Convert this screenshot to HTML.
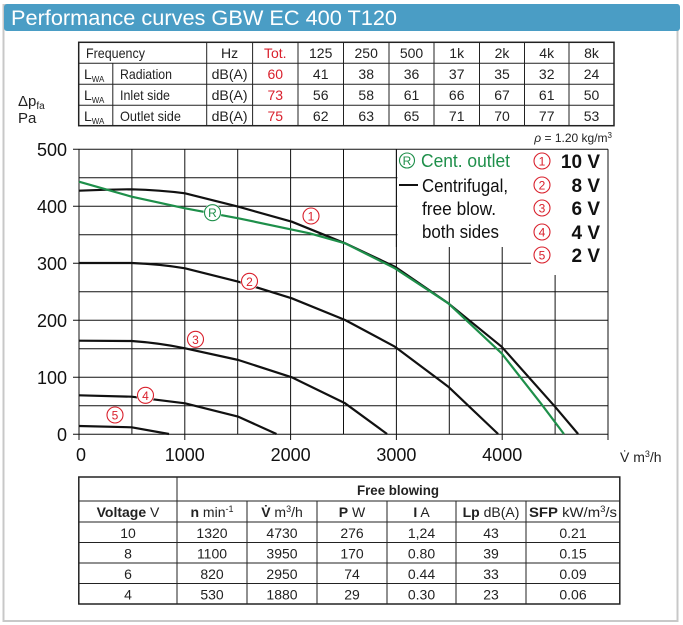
<!DOCTYPE html>
<html><head><meta charset="utf-8"><style>
html,body{margin:0;padding:0;background:#fff;}
svg{display:block;font-family:"Liberation Sans",sans-serif;}
</style></head><body>
<svg width="683" height="625" viewBox="0 0 683 625" xmlns="http://www.w3.org/2000/svg">
<rect x="0" y="0" width="683" height="625" fill="#fff"/>
<rect x="3.5" y="5" width="674" height="616" fill="#fff" stroke="#c8c8c8" stroke-width="2"/>
<rect x="4" y="4" width="676" height="27" fill="#4a9dc5" rx="3"/>
<text x="11" y="25" fill="#fff" font-size="21" textLength="386" lengthAdjust="spacingAndGlyphs">Performance curves GBW EC 400 T120</text>

<!-- top table -->
<g stroke="#222" stroke-width="1" fill="none">
<rect x="78.7" y="42.3" width="535.3" height="83.4" stroke-width="1.5"/>
<line x1="78.7" y1="63.3" x2="614" y2="63.3"/><line x1="78.7" y1="84.3" x2="614" y2="84.3"/><line x1="78.7" y1="105.3" x2="614" y2="105.3"/>
<line x1="112.8" y1="63.3" x2="112.8" y2="125.7"/>
<line x1="206.7" y1="42.3" x2="206.7" y2="125.7"/><line x1="252.6" y1="42.3" x2="252.6" y2="125.7"/><line x1="298" y1="42.3" x2="298" y2="125.7"/><line x1="343.5" y1="42.3" x2="343.5" y2="125.7"/><line x1="389" y1="42.3" x2="389" y2="125.7"/><line x1="434" y1="42.3" x2="434" y2="125.7"/><line x1="479.5" y1="42.3" x2="479.5" y2="125.7"/><line x1="524.5" y1="42.3" x2="524.5" y2="125.7"/><line x1="569" y1="42.3" x2="569" y2="125.7"/>
</g>
<g font-size="14" fill="#222" text-anchor="middle">
<text x="86" y="58" text-anchor="start" textLength="59" lengthAdjust="spacingAndGlyphs">Frequency</text>
<text x="229.6" y="58">Hz</text><text x="275.3" y="58" fill="#d9202c">Tot.</text>
<text x="320.7" y="58">125</text><text x="366.2" y="58">250</text><text x="411.5" y="58">500</text><text x="456.7" y="58">1k</text><text x="502" y="58">2k</text><text x="546.7" y="58">4k</text><text x="591.5" y="58">8k</text>
<text x="84" y="79" text-anchor="start">L<tspan font-size="8" dy="3">WA</tspan></text>
<text x="84" y="100" text-anchor="start">L<tspan font-size="8" dy="3">WA</tspan></text>
<text x="84" y="121" text-anchor="start">L<tspan font-size="8" dy="3">WA</tspan></text>
<text x="120" y="79" text-anchor="start" textLength="52" lengthAdjust="spacingAndGlyphs">Radiation</text>
<text x="120" y="100" text-anchor="start" textLength="50" lengthAdjust="spacingAndGlyphs">Inlet side</text>
<text x="120" y="121" text-anchor="start" textLength="61" lengthAdjust="spacingAndGlyphs">Outlet side</text>
<text x="229.6" y="79" textLength="36" lengthAdjust="spacingAndGlyphs">dB(A)</text><text x="229.6" y="100" textLength="36" lengthAdjust="spacingAndGlyphs">dB(A)</text><text x="229.6" y="121" textLength="36" lengthAdjust="spacingAndGlyphs">dB(A)</text>
<text x="275.3" y="79" fill="#d9202c">60</text><text x="320.7" y="79">41</text><text x="366.2" y="79">38</text><text x="411.5" y="79">36</text><text x="456.7" y="79">37</text><text x="502" y="79">35</text><text x="546.7" y="79">32</text><text x="591.5" y="79">24</text>
<text x="275.3" y="100" fill="#d9202c">73</text><text x="320.7" y="100">56</text><text x="366.2" y="100">58</text><text x="411.5" y="100">61</text><text x="456.7" y="100">66</text><text x="502" y="100">67</text><text x="546.7" y="100">61</text><text x="591.5" y="100">50</text>
<text x="275.3" y="121" fill="#d9202c">75</text><text x="320.7" y="121">62</text><text x="366.2" y="121">63</text><text x="411.5" y="121">65</text><text x="456.7" y="121">71</text><text x="502" y="121">70</text><text x="546.7" y="121">77</text><text x="591.5" y="121">53</text>
</g>
<text x="18" y="106" font-size="15" fill="#222">Δp<tspan font-size="10" dy="3">fa</tspan></text>
<text x="18" y="123" font-size="15" fill="#222">Pa</text>
<text x="612" y="142" font-size="12" fill="#222" text-anchor="end"><tspan font-style="italic">ρ</tspan> = 1.20 kg/m<tspan font-size="8" dy="-4">3</tspan></text>

<!-- grid -->
<g stroke="#111" stroke-width="1">
<line x1="73" y1="149.3" x2="608" y2="149.3"/>
<line x1="79" y1="177.8" x2="398" y2="177.8"/>
<line x1="73" y1="206.3" x2="398" y2="206.3"/>
<line x1="79" y1="234.8" x2="398" y2="234.8"/>
<line x1="73" y1="263.3" x2="531" y2="263.3"/>
<line x1="79" y1="291.8" x2="608" y2="291.8"/>
<line x1="73" y1="320.3" x2="608" y2="320.3"/>
<line x1="79" y1="348.8" x2="608" y2="348.8"/>
<line x1="73" y1="377.3" x2="608" y2="377.3"/>
<line x1="79" y1="405.8" x2="608" y2="405.8"/>
<line x1="73" y1="434.3" x2="608" y2="434.3"/>
<line x1="79" y1="149.3" x2="79" y2="440"/>
<line x1="131.9" y1="149.3" x2="131.9" y2="434.3"/>
<line x1="184.8" y1="149.3" x2="184.8" y2="440"/>
<line x1="237.7" y1="149.3" x2="237.7" y2="434.3"/>
<line x1="290.6" y1="149.3" x2="290.6" y2="440"/>
<line x1="343.5" y1="149.3" x2="343.5" y2="434.3"/>
<line x1="396.4" y1="149.3" x2="396.4" y2="440"/>
<line x1="449.3" y1="247" x2="449.3" y2="434.3"/>
<line x1="502.2" y1="247" x2="502.2" y2="440"/>
<line x1="555.1" y1="275" x2="555.1" y2="434.3"/>
<line x1="608" y1="149.3" x2="608" y2="440"/>
</g>
<g font-size="18" fill="#111" text-anchor="end">
<text x="67" y="156">500</text><text x="67" y="213">400</text><text x="67" y="270">300</text><text x="67" y="327">200</text><text x="67" y="384">100</text><text x="67" y="441">0</text>
</g>
<g font-size="18" fill="#111" text-anchor="middle">
<text x="81" y="461">0</text><text x="184.8" y="461">1000</text><text x="290.6" y="461">2000</text><text x="396.4" y="461">3000</text><text x="502.2" y="461">4000</text>
</g>
<text x="620" y="462" font-size="14" fill="#222">V̇  m<tspan font-size="9" dy="-5">3</tspan><tspan dy="5">/h</tspan></text>

<!-- curves -->
<g transform="translate(79,0) scale(0.9925,1) translate(-78.6,0)" fill="none" stroke-width="2.2" stroke-linejoin="round">
<path stroke="#111" d="M78.6,190.7 C105,189.5 131.7,189.3 131.7,189.3 C160,190 185.4,193.3 185.4,193.3 L239.2,206.7 L293,221.7 L346.7,243.3 L396.9,266.7 L450.7,303.3 L504.4,346.7 L558.2,406.7 L581.5,434"/>
<path stroke="#1e8f4a" d="M78.6,181.7 L131.7,196.7 L185.4,208.3 L239.2,218.3 L310.9,233.3 L346.7,243.3 L396.9,268.3 L450.7,303.3 L504.4,353.3 L543.9,403.3 L567.2,434"/>
<path stroke="#111" d="M78.6,263 L131.7,263 Q160,264 185.4,268.3 L239.2,281.7 L293,298.3 L346.7,320 L396.9,346.7 L450.7,386.7 L500.9,434"/>
<path stroke="#111" d="M78.6,340.7 L131.7,341 Q160,343 185.4,348.3 L239.2,360 L293,377.3 L346.7,403.3 L389,434"/>
<path stroke="#111" d="M78.6,395.3 L131.7,396.7 L185.4,403.3 L239.2,416.7 L277.6,434"/>
<path stroke="#111" d="M78.6,426 L131.7,427.3 L169.3,434"/>
</g>
<!-- curve labels -->
<g font-size="12" text-anchor="middle">
<circle cx="311" cy="216" r="8" fill="#fff" stroke="#d9202c" stroke-width="1.1"/><text x="311" y="220.5" fill="#d9202c">1</text>
<circle cx="249.5" cy="281.3" r="9" fill="#fff" stroke="none"/><circle cx="249.5" cy="281.3" r="8" fill="#fff" stroke="#d9202c" stroke-width="1.1"/><text x="249.5" y="285.8" fill="#d9202c">2</text>
<circle cx="195.5" cy="339.3" r="8" fill="#fff" stroke="#d9202c" stroke-width="1.1"/><text x="195.5" y="343.8" fill="#d9202c">3</text>
<circle cx="145.5" cy="395.3" r="9" fill="#fff" stroke="none"/><circle cx="145.5" cy="395.3" r="8" fill="#fff" stroke="#d9202c" stroke-width="1.1"/><text x="145.5" y="399.8" fill="#d9202c">4</text>
<circle cx="115" cy="415" r="8" fill="#fff" stroke="#d9202c" stroke-width="1.1"/><text x="115" y="419.5" fill="#d9202c">5</text>
<circle cx="212.5" cy="212.7" r="9" fill="#fff" stroke="none"/><circle cx="212.5" cy="212.7" r="8" fill="#fff" stroke="#1e8f4a" stroke-width="1.1"/><text x="212.5" y="217.2" fill="#1e8f4a">R</text>
</g>

<!-- legend -->
<rect x="397.4" y="150" width="210" height="97" fill="#fff"/>
<rect x="531.5" y="150" width="76" height="124.5" fill="#fff"/>
<line x1="396.4" y1="149.3" x2="396.4" y2="247" stroke="#111"/>
<g font-size="12" text-anchor="middle">
<circle cx="407" cy="160.5" r="7.5" fill="#fff" stroke="#1e8f4a" stroke-width="1.1"/><text x="407" y="165" fill="#1e8f4a">R</text>
</g>
<text x="421" y="167" font-size="18" fill="#1e8f4a" textLength="89" lengthAdjust="spacingAndGlyphs">Cent. outlet</text>
<line x1="399" y1="185" x2="418" y2="185" stroke="#111" stroke-width="2"/>
<g font-size="18" fill="#111">
<text x="422" y="192" textLength="86" lengthAdjust="spacingAndGlyphs">Centrifugal,</text>
<text x="422" y="215" textLength="74" lengthAdjust="spacingAndGlyphs">free blow.</text>
<text x="422" y="238" textLength="77" lengthAdjust="spacingAndGlyphs">both sides</text>
</g>
<g font-size="12" text-anchor="middle" fill="#d9202c">
<circle cx="542" cy="161" r="8" fill="#fff" stroke="#d9202c" stroke-width="1.1"/><text x="542" y="165.5">1</text>
<circle cx="542" cy="185" r="8" fill="#fff" stroke="#d9202c" stroke-width="1.1"/><text x="542" y="189.5">2</text>
<circle cx="542" cy="208" r="8" fill="#fff" stroke="#d9202c" stroke-width="1.1"/><text x="542" y="212.5">3</text>
<circle cx="542" cy="232" r="8" fill="#fff" stroke="#d9202c" stroke-width="1.1"/><text x="542" y="236.5">4</text>
<circle cx="542" cy="255" r="8" fill="#fff" stroke="#d9202c" stroke-width="1.1"/><text x="542" y="259.5">5</text>
</g>
<g font-size="19" font-weight="bold" fill="#111" text-anchor="end">
<text x="600" y="168">10 V</text><text x="600" y="192">8 V</text><text x="600" y="215">6 V</text><text x="600" y="239">4 V</text><text x="600" y="262">2 V</text>
</g>

<!-- bottom table -->
<g stroke="#222" stroke-width="1" fill="none">
<rect x="78.8" y="477" width="541" height="127" stroke-width="1.5"/>
<line x1="78.8" y1="501" x2="620" y2="501"/>
<line x1="78.8" y1="522" x2="620" y2="522"/>
<line x1="78.8" y1="542.5" x2="620" y2="542.5"/>
<line x1="78.8" y1="563" x2="620" y2="563"/>
<line x1="78.8" y1="583.5" x2="620" y2="583.5"/>
<line x1="177" y1="477" x2="177" y2="604"/>
<line x1="247" y1="501" x2="247" y2="604"/>
<line x1="317" y1="501" x2="317" y2="604"/>
<line x1="387" y1="501" x2="387" y2="604"/>
<line x1="456" y1="501" x2="456" y2="604"/>
<line x1="526" y1="501" x2="526" y2="604"/>
</g>
<g font-size="14" fill="#222" text-anchor="middle">
<text x="398" y="495" font-weight="bold" textLength="82" lengthAdjust="spacingAndGlyphs">Free blowing</text>
<text x="128" y="517"><tspan font-weight="bold">Voltage</tspan> V</text>
<text x="212" y="517"><tspan font-weight="bold">n</tspan> min<tspan font-size="9" dy="-5">-1</tspan></text>
<text x="282" y="517"><tspan font-weight="bold">V̇</tspan> m<tspan font-size="9" dy="-5">3</tspan><tspan dy="5">/h</tspan></text>
<text x="352" y="517"><tspan font-weight="bold">P</tspan> W</text>
<text x="421.5" y="517"><tspan font-weight="bold">I</tspan> A</text>
<text x="491" y="517"><tspan font-weight="bold">Lp</tspan> dB(A)</text>
<text x="573" y="517" textLength="88" lengthAdjust="spacingAndGlyphs"><tspan font-weight="bold">SFP</tspan> kW/m<tspan font-size="9" dy="-5">3</tspan><tspan dy="5">/s</tspan></text>
<text x="128" y="538">10</text><text x="212" y="538">1320</text><text x="282" y="538">4730</text><text x="352" y="538">276</text><text x="421.5" y="538">1,24</text><text x="491" y="538">43</text><text x="573" y="538">0.21</text>
<text x="128" y="558.5">8</text><text x="212" y="558.5">1100</text><text x="282" y="558.5">3950</text><text x="352" y="558.5">170</text><text x="421.5" y="558.5">0.80</text><text x="491" y="558.5">39</text><text x="573" y="558.5">0.15</text>
<text x="128" y="579">6</text><text x="212" y="579">820</text><text x="282" y="579">2950</text><text x="352" y="579">74</text><text x="421.5" y="579">0.44</text><text x="491" y="579">33</text><text x="573" y="579">0.09</text>
<text x="128" y="599.5">4</text><text x="212" y="599.5">530</text><text x="282" y="599.5">1880</text><text x="352" y="599.5">29</text><text x="421.5" y="599.5">0.30</text><text x="491" y="599.5">23</text><text x="573" y="599.5">0.06</text>
</g>
</svg>
</body></html>
